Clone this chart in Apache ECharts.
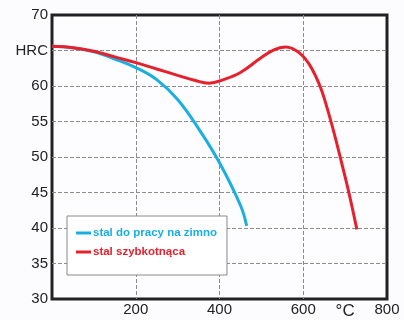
<!DOCTYPE html>
<html>
<head>
<meta charset="utf-8">
<script src="https://cdn.jsdelivr.net/npm/echarts@6/dist/echarts.min.js"></script>
<style>
  html, body { margin: 0; padding: 0; background: #fcfbfe; }
  #chart { width: 404px; height: 320px; }
</style>
</head>
<body>
<div id="chart"></div>
<script>
// temperatura [°C] / twardość [HRC]
const coldWork = [
  [0, 65.6], [50, 65.4], [100, 64.8], [150, 63.8], [200, 62.6],
  [250, 60.9], [300, 58.1], [350, 54.0], [400, 49.2], [450, 43.2], [465, 40.3]
]
const highSpeed = [
  [0, 65.6], [50, 65.4], [100, 64.9], [150, 64.1], [200, 63.3],
  [250, 62.4], [300, 61.5], [340, 60.8], [375, 60.4], [410, 60.9],
  [450, 61.9], [500, 64.0], [530, 65.1], [557, 65.5], [590, 64.7],
  [620, 62.5], [650, 58.3], [700, 47.2], [728, 39.8]
]
const seriesNames = ['stal do pracy na zimno', 'stal szybkotnąca']
const colors = ['#1aaee2', '#e6202c']
const yLabels = { 30: '30', 35: '35', 40: '40', 45: '45', 50: '50', 55: '55', 60: '60', 65: 'HRC', 70: '70' }
const xLabels = { 200: '200', 400: '400', 600: '600', 800: '800' }

const chart = echarts.init(document.getElementById('chart'))

const labelStyle = {
  color: '#222',
  fontFamily: 'Liberation Sans, Arial, sans-serif',
  fontSize: 15
}
const gridLine = { color: '#8c8c8c', type: [4, 2], width: 1 }

chart.setOption({
  backgroundColor: '#fcfbfe',
  animation: false,
  grid: {
    left: 52, right: 17, top: 15, bottom: 21,
    show: true,
    borderColor: '#222',
    borderWidth: 3,
    backgroundColor: '#fdfcff'
  },
  legend: {
    orient: 'vertical',
    left: 67,
    top: 216,
    padding: [11, 10, 17, 9],
    itemGap: 7,
    itemWidth: 15,
    itemHeight: 3,
    icon: 'rect',
    backgroundColor: '#ffffff',
    borderColor: '#8a8a8a',
    borderWidth: 1,
    data: seriesNames.map((n, i) => ({
      name: n,
      textStyle: { color: colors[i] }
    })),
    textStyle: {
      fontFamily: 'Liberation Sans, Arial, sans-serif',
      fontSize: 11.5,
      fontWeight: 'bold',
      padding: [0, 0, 0, -3]
    }
  },
  xAxis: [
    {
      type: 'value',
      min: 0, max: 800, interval: 200,
      axisLine: { show: false },
      axisTick: { show: false },
      splitLine: { show: true, showMinLine: false, showMaxLine: false, lineStyle: gridLine },
      axisLabel: {
        ...labelStyle,
        margin: 3,
        formatter: v => xLabels[v] || ''
      }
    },
    {
      type: 'value',
      position: 'bottom',
      min: 0, max: 800, interval: 100,
      axisLine: { show: false },
      axisTick: { show: false },
      splitLine: { show: false },
      axisLabel: {
        ...labelStyle,
        fontSize: 17,
        margin: 4,
        formatter: v => (v === 700 ? '°C' : '')
      }
    }
  ],
  yAxis: {
    type: 'value',
    min: 30, max: 70, interval: 5,
    axisLine: { show: false },
    axisTick: { show: false },
    splitLine: { show: true, showMinLine: false, showMaxLine: false, lineStyle: gridLine },
    axisLabel: {
      ...labelStyle,
      margin: 4,
      formatter: v => yLabels[v] || ''
    }
  },
  series: [
    {
      name: seriesNames[0],
      type: 'line',
      data: coldWork,
      smooth: 0.4,
      symbol: 'none',
      lineStyle: { color: colors[0], width: 3 },
      itemStyle: { color: colors[0] },
      z: 3
    },
    {
      name: seriesNames[1],
      type: 'line',
      data: highSpeed,
      smooth: 0.4,
      symbol: 'none',
      lineStyle: { color: colors[1], width: 3 },
      itemStyle: { color: colors[1] },
      z: 4
    }
  ]
})
</script>
</body>
</html>
